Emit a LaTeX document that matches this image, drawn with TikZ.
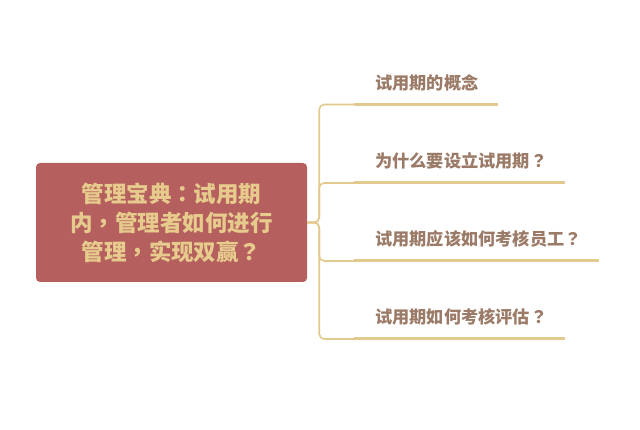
\documentclass[tikz,border=0pt]{standalone}
\usepackage{fontspec}
\newfontfamily\cjk{Noto Sans CJK TC}
\definecolor{rootred}{HTML}{B5605F}
\definecolor{rootgold}{HTML}{E6CB8D}
\definecolor{branchline}{HTML}{E2C98E}
\definecolor{leafbrown}{HTML}{9B7B67}
\tikzset{
  rootbox/.style={fill=rootred, rounded corners=4pt, minimum width=271pt, minimum height=119pt,
    text=rootgold, align=center, font=\cjk\bfseries\fontsize{22.5}{29}\selectfont},
  leaf/.style={anchor=west, inner sep=0pt, text=leafbrown, font=\cjk\bfseries\fontsize{17.2}{20}\selectfont},
  link/.style={draw=branchline, line width=1.6pt, rounded corners=5pt},
  underline/.style={draw=branchline, line width=3pt}
}
\begin{document}
\begin{tikzpicture}[x=1pt,y=-1pt]
\useasboundingbox (0,0) rectangle (640,430);

\node [rootbox] (root) at (171.5,222.5) {管理宝典：试用期\\内，管理者如何进行\\管理，实现双赢？};

\foreach \y/\e/\t [count=\i] in {104.5/498/试用期的概念, 183/565/为什么要设立试用期？,
    261/599/试用期应该如何考核员工？, 339/565/试用期如何考核评估？}{
  \coordinate (s\i) at (354,\y);
  \coordinate (e\i) at (\e,\y);
  \node [leaf] (c\i) at (375,\y-22) {\t};
  \draw [link] (root.east) -- ++(12,0) |- (s\i);
  \draw [underline] (s\i) -- (e\i);
}
\end{tikzpicture}
\end{document}
